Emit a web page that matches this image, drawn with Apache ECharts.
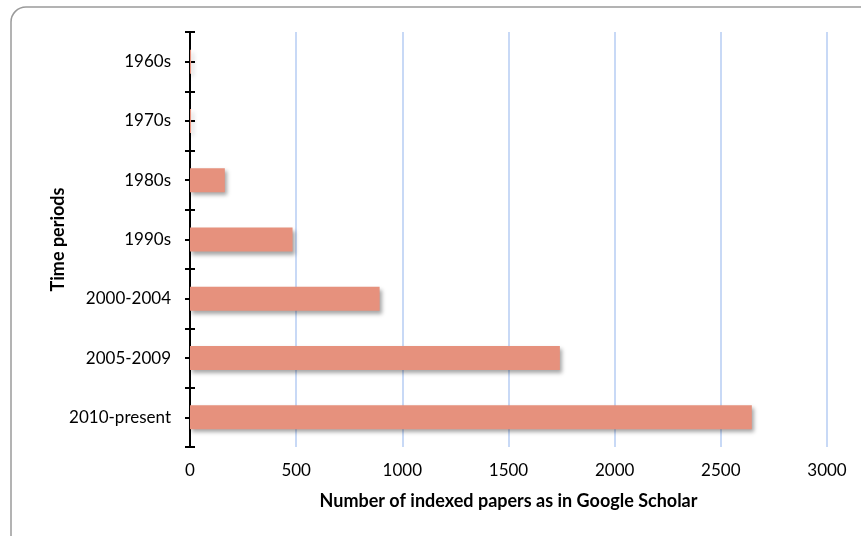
<!DOCTYPE html>
<html>
<head>
<meta charset="utf-8">
<script src="https://cdn.jsdelivr.net/npm/echarts@6/dist/echarts.min.js"></script>
<style>html,body{margin:0;padding:0;background:#fff}#c{width:861px;height:536px}</style>
</head>
<body>
<div id="c"></div>
<script>
const categories = ['1960s', '1970s', '1980s', '1990s', '2000-2004', '2005-2009', '2010-present'];
const papers = [5, 5, 164, 483, 893, 1742, 2646];
const xTicks = { min: 0, max: 3000, interval: 500 };
const xTitle = 'Number of indexed papers as in Google Scholar';
const yTitle = 'Time periods';

const FONT = 'Lato';
const chart = echarts.init(document.getElementById('c'), null, { renderer: 'canvas' });
const tickAxis = (align) => ({
  type: 'category', data: categories, inverse: true, position: 'left', offset: -5,
  axisLine: { show: false }, axisLabel: { show: false }, splitLine: { show: false },
  axisTick: { show: true, alignWithLabel: align, length: 10, lineStyle: { color: '#000', width: 2 } }
});
chart.setOption({
  backgroundColor: '#fff',
  animation: false,
  textStyle: { fontFamily: FONT },
  graphic: [{
    type: 'rect', shape: { x: 11, y: 7, width: 870, height: 560, r: 15 },
    style: { fill: 'none', stroke: '#9a9a9a', lineWidth: 1.5 }, z: -1
  }],
  grid: { left: 190, right: 34, top: 32, bottom: 89 },
  xAxis: {
    type: 'value', min: xTicks.min, max: xTicks.max, interval: xTicks.interval,
    name: xTitle, nameLocation: 'middle', nameGap: 45, nameMoveOverlap: false,
    nameTextStyle: { fontFamily: FONT, fontWeight: 'bold', fontSize: 18, color: '#000' },
    axisLine: { show: false }, axisTick: { show: false },
    axisLabel: { color: '#000', fontSize: 17, margin: 15, fontFamily: FONT, formatter: v => String(v) },
    splitLine: { show: true, lineStyle: { color: '#B6CDF3', width: 1.5 } }
  },
  yAxis: [{
    type: 'category', data: categories, inverse: true,
    name: yTitle, nameLocation: 'middle', nameGap: 123, nameRotate: 90, nameMoveOverlap: false,
    nameTextStyle: { fontFamily: FONT, fontWeight: 'bold', fontSize: 18, color: '#000' },
    axisLine: { show: true, lineStyle: { color: '#000', width: 2 } },
    axisTick: { show: false },
    axisLabel: { color: '#000', fontSize: 17, margin: 19, fontFamily: FONT },
    splitLine: { show: false }
  }, tickAxis(false), tickAxis(true)],
  series: [{
    type: 'bar', data: papers, yAxisIndex: 0, barWidth: 24,
    itemStyle: {
      color: '#E6917D',
      shadowColor: 'rgba(0,0,0,0.35)', shadowBlur: 4, shadowOffsetX: 2, shadowOffsetY: 3
    }
  }]
});
</script>
</body>
</html>
